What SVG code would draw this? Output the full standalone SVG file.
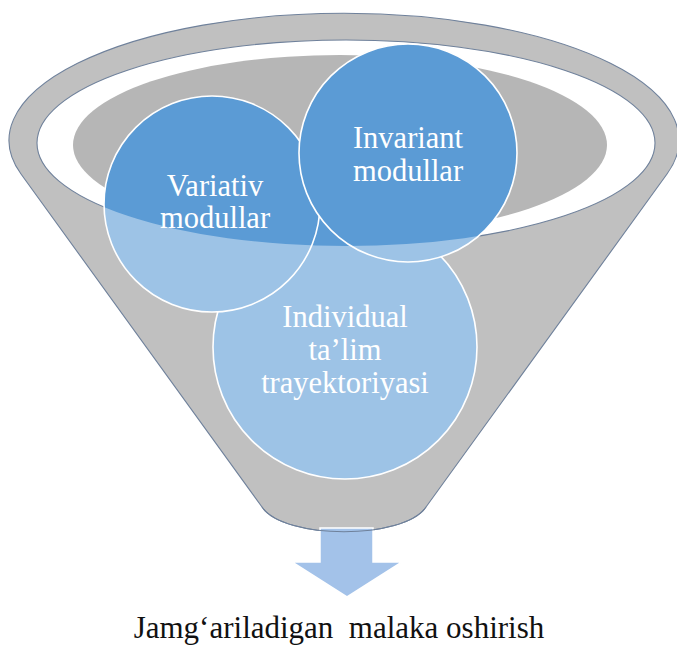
<svg xmlns="http://www.w3.org/2000/svg" width="677" height="646" viewBox="0 0 677 646">
  <style>
    .dark { fill: #5B9BD5; }
    .light { fill: #9DC3E6; }
    .ring { fill: none; stroke: #ffffff; stroke-width: 1.6; }
    .lbl { font-family: 'Liberation Serif', Tinos, 'Times New Roman', 'DejaVu Serif', serif; font-size: 30.5px; fill: #ffffff; text-anchor: middle; }
    .cap { font-family: 'Liberation Serif', Tinos, 'Times New Roman', 'DejaVu Serif', serif; font-size: 31px; fill: #111111; text-anchor: middle; white-space: pre; }
    .edge { fill: none; stroke: #6f819b; stroke-width: 1.1; }
  </style>
  <defs>
    <clipPath id="cone">
      <path clip-rule="evenodd" d="M0 0 H677 V646 H0 Z M37 143 A309 103 0 1 0 655 143 A309 103 0 1 0 37 143 Z"/>
    </clipPath>
  </defs>
  <rect width="677" height="646" fill="#ffffff"/>

  <g id="funnel">
    <path d="M21 174 A335 127 0 1 1 667 174 L426 507 C404 540 284 540 262 507 Z" fill="#c0c0c0" stroke="#6f819b" stroke-width="1.1"/>
    <ellipse cx="346" cy="143" rx="309" ry="103" fill="#ffffff" stroke="#6f819b" stroke-width="1.1"/>
    <ellipse cx="340" cy="145" rx="267" ry="90" fill="#b6b6b6"/>
  </g>

  <g id="node-individual">
    <circle class="dark" cx="345" cy="347" r="132"/>
    <circle class="light" cx="345" cy="347" r="132" clip-path="url(#cone)"/>
    <circle class="ring" cx="345" cy="347" r="132"/>
    <text class="lbl" x="345" y="327">Individual</text>
    <text class="lbl" x="345" y="360">ta’lim</text>
    <text class="lbl" x="345" y="393">trayektoriyasi</text>
  </g>

  <g id="node-variativ">
    <circle class="dark" cx="212" cy="204" r="108"/>
    <circle class="light" cx="212" cy="204" r="108" clip-path="url(#cone)"/>
    <circle class="ring" cx="212" cy="204" r="108"/>
    <text class="lbl" x="215" y="196">Variativ</text>
    <text class="lbl" x="215" y="228">modullar</text>
  </g>

  <g id="node-invariant">
    <circle class="dark" cx="408" cy="153" r="109"/>
    <circle class="light" cx="408" cy="153" r="109" clip-path="url(#cone)"/>
    <circle class="ring" cx="408" cy="153" r="109"/>
    <text class="lbl" x="408" y="148">Invariant</text>
    <text class="lbl" x="408" y="181">modullar</text>
  </g>

  <g id="connectors">
    <path d="M320 528 H373 V562 H402 L347 597 L292 562 H320 Z" fill="#a3c2e9" stroke="#ffffff" stroke-width="1.5"/>
    <path class="edge" d="M426 507 C404 540 284 540 262 507"/>
  </g>

  <g id="caption">
    <text class="cap" x="339" y="638" xml:space="preserve">Jamg‘ariladigan  malaka oshirish</text>
  </g>
</svg>
